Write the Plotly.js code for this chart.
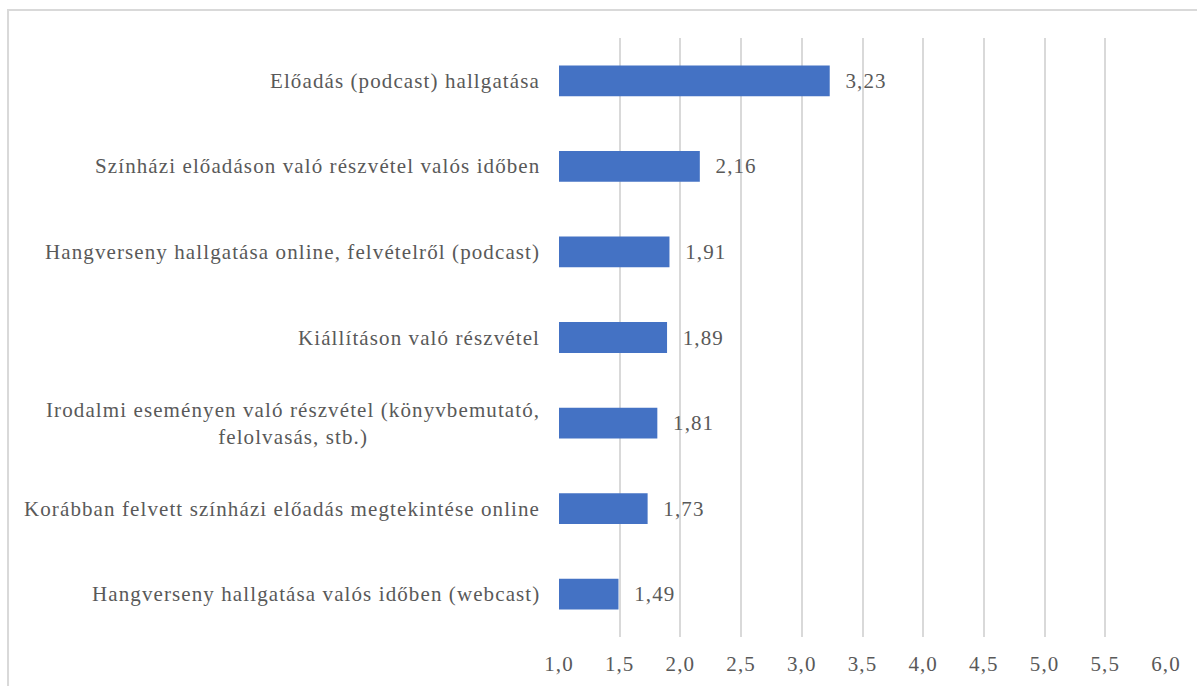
<!DOCTYPE html>
<html>
<head>
<meta charset="utf-8">
<script src="https://cdn.plot.ly/plotly-3.0.1.min.js"></script>
<style>
  body { margin: 0; background: #fff; }
  #chart { width: 1197px; height: 686px; }
  text { letter-spacing: 1.1px; }
</style>
</head>
<body>
<div id="chart"></div>
<script>
const categories = [
    'Előadás (podcast) hallgatása',
    'Színházi előadáson való részvétel valós időben',
    'Hangverseny hallgatása online, felvételről (podcast)',
    'Kiállításon való részvétel',
    'Irodalmi eseményen való részvétel (könyvbemutató,<br>felolvasás, stb.)',
    'Korábban felvett színházi előadás megtekintése online',
    'Hangverseny hallgatása valós időben (webcast)'
];
const scores = [3.23, 2.16, 1.91, 1.89, 1.81, 1.73, 1.49];

const fontFamily = 'Times New Roman, Liberation Serif, DejaVu Serif, serif';
const textGray = '#595959';
const fontSize = 21;

const trace = {
    type: 'bar',
    orientation: 'h',
    x: scores,
    y: categories,
    width: 0.36,
    marker: { color: '#4472C4' },
    texttemplate: '  %{x:.2f}',
    textposition: 'outside',
    cliponaxis: false,
    textfont: { family: fontFamily, size: fontSize, color: textGray },
    hoverinfo: 'x+y'
};

// category labels as annotations so the wrapped one stays centred
const labelNotes = categories.map(c => ({
    xref: 'paper', yref: 'y',
    x: 0, y: c,
    xanchor: 'right', yanchor: 'middle',
    xshift: -17,
    align: 'center',
    showarrow: false,
    text: c,
    font: { family: fontFamily, size: fontSize, color: textGray }
}));

const layout = {
    width: 1197,
    height: 686,
    margin: { l: 559, r: 31, t: 38, b: 49 },
    paper_bgcolor: '#ffffff',
    plot_bgcolor: '#ffffff',
    separators: ', ',
    showlegend: false,
    font: { family: fontFamily },
    xaxis: {
        range: [1, 6],
        tick0: 1,
        dtick: 0.5,
        tickformat: '.1f',
        showgrid: true,
        gridcolor: '#d9d9d9',
        gridwidth: 2,
        zeroline: false,
        showline: false,
        ticks: '',
        ticklabelstandoff: 12,
        tickfont: { family: fontFamily, size: fontSize, color: textGray }
    },
    yaxis: {
        type: 'category',
        autorange: 'reversed',
        showticklabels: false,
        showgrid: false,
        zeroline: false,
        showline: false,
        ticks: ''
    },
    annotations: labelNotes,
    shapes: [{
        type: 'rect',
        xref: 'paper', yref: 'paper',
        x0: -0.9077, x1: 1.2,
        y0: -0.2, y1: 1.0467,
        line: { color: '#d9d9d9', width: 2 },
        fillcolor: 'rgba(0,0,0,0)',
        layer: 'below'
    }]
};

Plotly.newPlot('chart', [trace], layout, { displayModeBar: false, staticPlot: true });
</script>
</body>
</html>
